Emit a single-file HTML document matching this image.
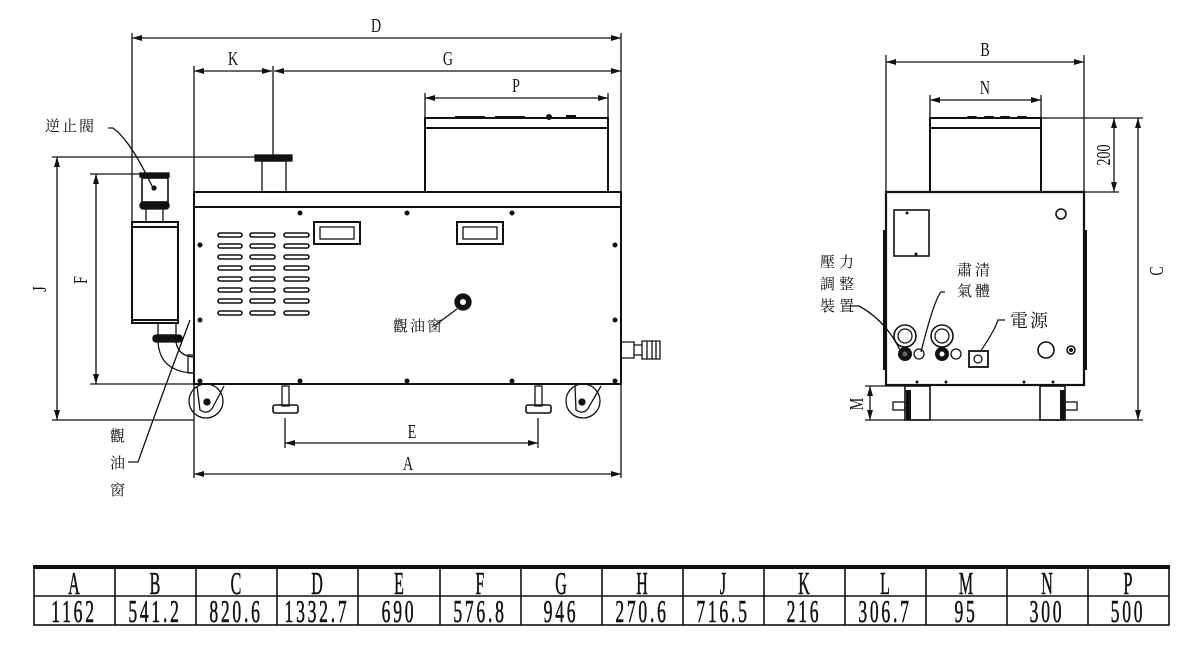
<!DOCTYPE html>
<html><head><meta charset="utf-8"><style>
html,body{margin:0;padding:0;background:#fff;}
svg{display:block}
.l{font-family:"Liberation Serif",serif;font-size:20px;fill:#111}
.c{font-family:"Liberation Serif","Noto Serif CJK SC","Noto Sans CJK TC",serif;font-size:15px;fill:#111}
</style></head><body>
<svg width="1190" height="652" viewBox="0 0 1190 652" xmlns="http://www.w3.org/2000/svg">
<defs>
<marker id="a" viewBox="0 0 10 6" refX="10" refY="3" markerWidth="10" markerHeight="6" orient="auto-start-reverse" markerUnits="userSpaceOnUse"><path d="M0,0 L10,3 L0,6 z" fill="#111"/></marker>
</defs>
<g stroke="#111" fill="none" stroke-width="1.3">
<line x1="132" y1="33" x2="132" y2="222"/>
<line x1="621" y1="33" x2="621" y2="478"/>
<line x1="194" y1="66" x2="194" y2="478"/>
<line x1="273" y1="66" x2="273" y2="155"/>
<line x1="425" y1="93" x2="425" y2="118"/>
<line x1="608" y1="93" x2="608" y2="118"/>
<line x1="52" y1="157" x2="258" y2="157"/>
<line x1="90" y1="174" x2="140" y2="174"/>
<line x1="90" y1="384" x2="194" y2="384"/>
<line x1="52" y1="420" x2="194" y2="420"/>
<line x1="285" y1="418" x2="285" y2="448"/>
<line x1="538" y1="418" x2="538" y2="448"/>
<line x1="132" y1="38" x2="621" y2="38" marker-start="url(#a)" marker-end="url(#a)"/>
<line x1="194" y1="71" x2="272" y2="71" marker-start="url(#a)" marker-end="url(#a)"/>
<line x1="274" y1="71" x2="621" y2="71" marker-start="url(#a)" marker-end="url(#a)"/>
<line x1="425" y1="98" x2="608" y2="98" marker-start="url(#a)" marker-end="url(#a)"/>
<line x1="57" y1="157" x2="57" y2="420" marker-start="url(#a)" marker-end="url(#a)"/>
<line x1="96" y1="174" x2="96" y2="384" marker-start="url(#a)" marker-end="url(#a)"/>
<line x1="285" y1="443" x2="538" y2="443" marker-start="url(#a)" marker-end="url(#a)"/>
<line x1="194" y1="474" x2="621" y2="474" marker-start="url(#a)" marker-end="url(#a)"/>
<rect x="194" y="192" width="427" height="192" stroke-width="2"/>
<line x1="194" y1="207" x2="621" y2="207" stroke-width="2"/>
<rect x="425" y="118" width="183" height="74" stroke-width="2"/>
<line x1="425" y1="128" x2="608" y2="128" stroke-width="2"/>
<rect x="262" y="161" width="24" height="31"/>
<rect x="255" y="155" width="37" height="6" fill="#111"/>
<rect x="314" y="222" width="46" height="22" stroke-width="2"/>
<rect x="320" y="227" width="34" height="12"/>
<rect x="457" y="222" width="46" height="22" stroke-width="2"/>
<rect x="463" y="227" width="34" height="12"/>
<rect x="132" y="222" width="46" height="101" stroke-width="2"/>
<line x1="132" y1="227" x2="178" y2="227" stroke-width="2"/>
<line x1="132" y1="320" x2="178" y2="320" stroke-width="2"/>
<rect x="146" y="208" width="17" height="14"/>
<rect x="140" y="202" width="29" height="7" rx="3" fill="#111"/>
<rect x="142" y="178" width="26" height="24" stroke-width="1.6"/>
<rect x="140" y="173" width="29" height="4" fill="#111"/>
<circle cx="154" cy="188" r="2" fill="#111"/>
<rect x="158" y="323" width="18" height="12"/>
<rect x="153" y="335" width="29" height="7" rx="3" fill="#111"/>
<path d="M158,342 Q160,372 194,373 M176,342 Q178,356 194,357"/>
<rect x="188" y="355" width="6" height="18"/>
<path d="M622,342 h12 v16 h-12 M634,345 h8 v10 h-8 M642,341 h18 v18 h-18z" fill="#fff"/>
<line x1="647" y1="341" x2="647" y2="359"/><line x1="652" y1="341" x2="652" y2="359"/><line x1="656" y1="341" x2="656" y2="359"/>
<circle cx="206" cy="401" r="17"/>
<path d="M197,386 L200,410 Q209,416 214,405 L224,386"/>
<circle cx="207" cy="402" r="3" fill="#111"/>
<circle cx="583" cy="401" r="17"/>
<path d="M575,386 L576,410 Q585,416 590,405 L601,386"/>
<circle cx="582" cy="402" r="3" fill="#111"/>
<rect x="282" y="386" width="7" height="20"/>
<rect x="273" y="405" width="25" height="8" rx="2" stroke-width="1.6"/>
<rect x="535" y="386" width="7" height="20"/>
<rect x="526" y="405" width="25" height="8" rx="2" stroke-width="1.6"/>
<circle cx="463" cy="302" r="8" fill="#111"/>
<circle cx="463" cy="302" r="3" fill="#fff" stroke="none"/>
<path d="M434,326 L457,309"/>
<path d="M108,128 h5 Q130,140 152,186"/>
<path d="M128,462 h10 Q160,400 190,320"/>
</g>
<g fill="#fff" stroke="#111" stroke-width="1.6">
<g id="vr">
<rect x="218" y="233" width="24" height="4" rx="2"/><rect x="250" y="233" width="25" height="4" rx="2"/><rect x="284" y="233" width="25" height="4" rx="2"/>
</g>
<use href="#vr" y="11"/><use href="#vr" y="22"/><use href="#vr" y="33"/><use href="#vr" y="44"/><use href="#vr" y="55"/><use href="#vr" y="66"/><use href="#vr" y="78"/>
</g>
<g fill="#111">
<circle cx="300" cy="213" r="2.5"/><circle cx="407" cy="213" r="2.5"/><circle cx="512" cy="213" r="2.5"/>
<circle cx="200" cy="245" r="2.5"/><circle cx="200" cy="320" r="2.5"/>
<circle cx="615" cy="245" r="2.5"/><circle cx="615" cy="320" r="2.5"/>
<circle cx="200" cy="381" r="2.5"/><circle cx="300" cy="381" r="2.5"/><circle cx="407" cy="381" r="2.5"/><circle cx="512" cy="381" r="2.5"/><circle cx="615" cy="381" r="2.5"/>
<rect x="455" y="116" width="30" height="2"/><rect x="495" y="116" width="30" height="2"/><circle cx="549" cy="117" r="3"/><rect x="566" y="115" width="10" height="3"/>
</g>

<g stroke="#111" fill="none" stroke-width="1.3">
<line x1="886" y1="55" x2="886" y2="192"/>
<line x1="1084" y1="55" x2="1084" y2="192"/>
<line x1="930" y1="95" x2="930" y2="118"/>
<line x1="1041" y1="95" x2="1041" y2="118"/>
<line x1="886" y1="62" x2="1084" y2="62" marker-start="url(#a)" marker-end="url(#a)"/>
<line x1="930" y1="100" x2="1041" y2="100" marker-start="url(#a)" marker-end="url(#a)"/>
<line x1="1041" y1="118" x2="1143" y2="118"/>
<line x1="1084" y1="192" x2="1119" y2="192"/>
<line x1="1114" y1="118" x2="1114" y2="192" marker-start="url(#a)" marker-end="url(#a)"/>
<line x1="1138" y1="118" x2="1138" y2="420" marker-start="url(#a)" marker-end="url(#a)"/>
<line x1="865" y1="386" x2="906" y2="386"/>
<line x1="865" y1="420" x2="1143" y2="420"/>
<line x1="870" y1="386" x2="870" y2="420" marker-start="url(#a)" marker-end="url(#a)"/>
<rect x="886" y="192" width="198" height="193" stroke-width="2.2"/>
<rect x="930" y="118" width="111" height="74" stroke-width="2"/>
<line x1="930" y1="128" x2="1041" y2="128" stroke-width="2"/>
<rect x="894" y="210" width="35" height="46" stroke-width="1.6"/>
<circle cx="1061" cy="214" r="5" stroke-width="1.6"/>
<circle cx="905" cy="336" r="11" stroke-width="1.6"/><circle cx="905" cy="336" r="7"/>
<circle cx="942" cy="336" r="11" stroke-width="1.6"/><circle cx="942" cy="336" r="7"/>
<circle cx="919" cy="354" r="5"/><circle cx="956" cy="354" r="5"/>
<rect x="969" y="351" width="19" height="16" stroke-width="1.8"/><circle cx="978" cy="359" r="4"/>
<circle cx="1046" cy="350" r="8" stroke-width="1.6"/>
<circle cx="1071" cy="350" r="4" stroke-width="1.6"/>
<path d="M851,306 h8 Q885,320 900,350"/>
<path d="M945,292 h-4 Q934,300 921,352"/>
<path d="M1005,320 h-7 Q995,330 980,352"/>
<rect x="905" y="386" width="25" height="34" stroke-width="1.6"/>
<rect x="1040" y="386" width="25" height="34" stroke-width="1.6"/>
<rect x="893" y="402" width="12" height="8"/><rect x="1065" y="402" width="12" height="8"/>
</g>
<g fill="#111">
<circle cx="905" cy="354" r="7"/><circle cx="942" cy="354" r="7"/>
<circle cx="1071" cy="350" r="2"/>
<circle cx="907" cy="213" r="1.5"/><circle cx="916" cy="254" r="1.5"/>
<rect x="967" y="116" width="10" height="3" rx="1"/><rect x="984" y="116" width="10" height="3" rx="1"/><rect x="1000" y="116" width="10" height="3" rx="1"/><rect x="1017" y="116" width="10" height="3" rx="1"/>
<circle cx="917" cy="382" r="1.5"/><circle cx="946" cy="382" r="1.5"/><circle cx="1024" cy="382" r="1.5"/><circle cx="1053" cy="382" r="1.5"/>
<rect x="883" y="230" width="3" height="140"/><rect x="1084" y="230" width="3" height="140"/>
<rect x="906" y="390" width="5" height="30"/><rect x="1060" y="390" width="5" height="30"/>
</g>
<circle cx="905" cy="354" r="2.5" fill="#666"/><circle cx="942" cy="354" r="2.5" fill="#fff"/>

<g class="l" text-anchor="middle">
<text x="376" y="32" transform="translate(376 0) scale(.7 1) translate(-376 0)">D</text>
<text x="233" y="65" transform="translate(233 0) scale(.7 1) translate(-233 0)">K</text>
<text x="448" y="65" transform="translate(448 0) scale(.7 1) translate(-448 0)">G</text>
<text x="516" y="92" transform="translate(516 0) scale(.7 1) translate(-516 0)">P</text>
<text x="412" y="438" transform="translate(412 0) scale(.7 1) translate(-412 0)">E</text>
<text x="408" y="470" transform="translate(408 0) scale(.7 1) translate(-408 0)">A</text>
<text x="985" y="56" transform="translate(985 0) scale(.7 1) translate(-985 0)">B</text>
<text x="985" y="94" transform="translate(985 0) scale(.7 1) translate(-985 0)">N</text>
<text transform="translate(46 289) rotate(-90) scale(.7 1)">J</text>
<text transform="translate(87 280) rotate(-90) scale(.7 1)">F</text>
<text transform="translate(1163 271) rotate(-90) scale(.7 1)">C</text>
<text transform="translate(863 404) rotate(-90) scale(.7 1)">M</text>
<text transform="translate(1110 155) rotate(-90) scale(.7 1)">200</text>
</g>
<g class="c">
<text x="45" y="131" letter-spacing="2">逆止閥</text>
<text x="393" y="331" letter-spacing="2">觀油窗</text>
<text x="110" y="441">觀</text><text x="110" y="468">油</text><text x="110" y="495">窗</text>
<text x="820" y="267" letter-spacing="4">壓力</text>
<text x="820" y="289" letter-spacing="4">調整</text>
<text x="820" y="311" letter-spacing="4">裝置</text>
<text x="957" y="275" letter-spacing="3">肅清</text>
<text x="957" y="296" letter-spacing="3">氣體</text>
<text x="1010" y="327" font-size="18" letter-spacing="2">電源</text>
</g>

<g stroke="#111" fill="none">
<line x1="33" y1="567" x2="1170" y2="567" stroke-width="4"/>
<rect x="34" y="568" width="1135" height="57" stroke-width="1.6"/>
<line x1="34" y1="596" x2="1169" y2="596" stroke-width="1.6"/>
</g>
<g stroke="#111" stroke-width="1.6">
<line x1="115" y1="568" x2="115" y2="625"/><line x1="196" y1="568" x2="196" y2="625"/><line x1="277" y1="568" x2="277" y2="625"/><line x1="358" y1="568" x2="358" y2="625"/><line x1="440" y1="568" x2="440" y2="625"/><line x1="521" y1="568" x2="521" y2="625"/><line x1="602" y1="568" x2="602" y2="625"/><line x1="683" y1="568" x2="683" y2="625"/><line x1="764" y1="568" x2="764" y2="625"/><line x1="845" y1="568" x2="845" y2="625"/><line x1="926" y1="568" x2="926" y2="625"/><line x1="1007" y1="568" x2="1007" y2="625"/><line x1="1088" y1="568" x2="1088" y2="625"/>
</g>
<g font-family="Liberation Serif, serif" font-size="32" fill="#111" stroke="#111" stroke-width="0.6" text-anchor="middle">
<g transform="translate(0 594)">
<text x="74" transform="translate(74 0) scale(.5 1) translate(-74 0)">A</text>
<text x="155" transform="translate(155 0) scale(.5 1) translate(-155 0)">B</text>
<text x="236" transform="translate(236 0) scale(.5 1) translate(-236 0)">C</text>
<text x="317" transform="translate(317 0) scale(.5 1) translate(-317 0)">D</text>
<text x="399" transform="translate(399 0) scale(.5 1) translate(-399 0)">E</text>
<text x="480" transform="translate(480 0) scale(.5 1) translate(-480 0)">F</text>
<text x="561" transform="translate(561 0) scale(.5 1) translate(-561 0)">G</text>
<text x="642" transform="translate(642 0) scale(.5 1) translate(-642 0)">H</text>
<text x="723" transform="translate(723 0) scale(.5 1) translate(-723 0)">J</text>
<text x="804" transform="translate(804 0) scale(.5 1) translate(-804 0)">K</text>
<text x="885" transform="translate(885 0) scale(.5 1) translate(-885 0)">L</text>
<text x="966" transform="translate(966 0) scale(.5 1) translate(-966 0)">M</text>
<text x="1047" transform="translate(1047 0) scale(.5 1) translate(-1047 0)">N</text>
<text x="1128" transform="translate(1128 0) scale(.5 1) translate(-1128 0)">P</text>
</g>
<g transform="translate(0 622)" letter-spacing="5">
<text x="74" transform="translate(74 0) scale(.55 1) translate(-74 0)">1162</text>
<text x="155" transform="translate(155 0) scale(.55 1) translate(-155 0)">541.2</text>
<text x="236" transform="translate(236 0) scale(.55 1) translate(-236 0)">820.6</text>
<text x="317" transform="translate(317 0) scale(.55 1) translate(-317 0)">1332.7</text>
<text x="399" transform="translate(399 0) scale(.55 1) translate(-399 0)">690</text>
<text x="480" transform="translate(480 0) scale(.55 1) translate(-480 0)">576.8</text>
<text x="561" transform="translate(561 0) scale(.55 1) translate(-561 0)">946</text>
<text x="642" transform="translate(642 0) scale(.55 1) translate(-642 0)">270.6</text>
<text x="723" transform="translate(723 0) scale(.55 1) translate(-723 0)">716.5</text>
<text x="804" transform="translate(804 0) scale(.55 1) translate(-804 0)">216</text>
<text x="885" transform="translate(885 0) scale(.55 1) translate(-885 0)">306.7</text>
<text x="966" transform="translate(966 0) scale(.55 1) translate(-966 0)">95</text>
<text x="1047" transform="translate(1047 0) scale(.55 1) translate(-1047 0)">300</text>
<text x="1128" transform="translate(1128 0) scale(.55 1) translate(-1128 0)">500</text>
</g>
</g>
</svg>
</body></html>
